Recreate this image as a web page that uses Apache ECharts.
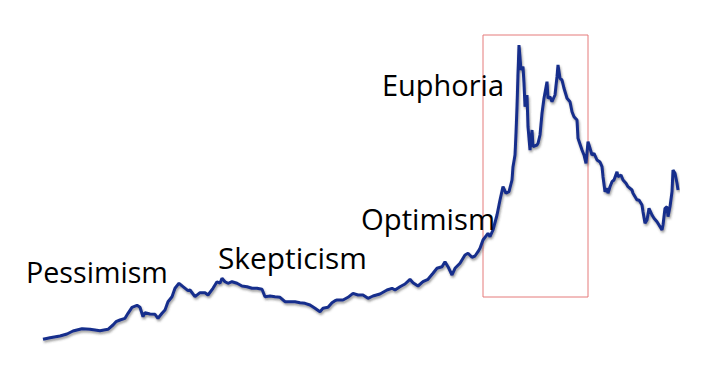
<!DOCTYPE html>
<html>
<head>
<meta charset="utf-8">
<script src="https://cdn.jsdelivr.net/npm/echarts@6/dist/echarts.min.js"></script>
<style>html,body{margin:0;padding:0;background:#fff}#c{width:710px;height:375px}</style>
</head>
<body>
<div id="c"></div>
<script>
// time steps (arbitrary units) and index level
const steps = [0,7,17,24,30,39,47,57,65,70,73,77,82,85,89,94,97,100,102,107,112,115,119,122,125,129,132,136,140,145,147,152,157,162,165,170,174,177,179,182,185,189,194,199,204,209,214,219,222,227,232,237,242,247,252,257,262,267,272,277,280,285,289,292,294,300,305,310,315,320,325,330,337,344,349,352,357,362,367,370,375,380,385,390,394,399,402,405,409,412,417,422,425,429,432,435,437,440,445,447,450,454,457,460,463,466,469,470,472,473,474,475,476,478,480,481,482,484,485,487,489,490,494,495,497,499,501,504,505,507,509,512,514,515,517,519,521,524,527,529,531,534,535,539,541,543,545,547,549,551,554,557,559,560,562,564,565,567,569,571,574,575,578,580,583,585,589,590,594,596,599,600,602,604,606,609,611,614,616,619,620,622,624,625,627,629,630,632,634,635];
const level = [10.7,12.3,14,16,19,21.3,20.7,19.3,20.7,25,28.3,30,31.7,36.7,42.7,44.7,42.7,33.3,37.3,36,35.7,31.7,36.7,40,48.3,53.3,61.7,66.7,63.3,59.3,60,53.3,57.3,57.3,55,61.7,68.3,66.7,71.7,68.3,66.7,68.3,66.7,64,63.3,61.7,61.7,60.7,53.3,54,53.3,52.7,48.3,48.3,48.3,47.3,46.7,45,41.7,38.3,41.7,42.7,47.3,49.3,50,50,52.7,56.7,55,55,51.7,54,56,60,61.7,60,63.3,66,70.7,67.3,64,68.3,70.7,76.7,81.7,83.3,88.3,83.3,75,81.7,86.7,95,96.7,92.7,94,98.3,101.7,110,116.7,113.3,120,135,150,163.3,156.7,158.3,170,183.3,195,216.7,243.3,276.7,305,280,283.3,266.7,243.3,255,223.3,200,220,203.3,205,206.7,215,236.7,251.7,268.3,251.7,253.3,248.3,255,273.3,285,271.7,270,261.7,251.7,248.3,238.3,233.3,230,211.7,200,195,186.7,208.3,201.7,195,196.7,190,188,183.3,173.3,158.3,161.7,156.7,163.3,168.3,170,178.3,173.3,175,170,166.7,163.3,160,156.7,150,150,145,138.3,126.7,130,141.7,135,131.7,128.3,125,120,125,141.7,143.3,133.3,143.3,158.3,180,176.7,166.7,160];
const phaseLabels = ['Pessimism','Skepticism','Optimism','Euphoria'];

const labelFont = '29px "Open Sans"';
const labelX = [26, 218, 361, 382];
const labelY = [271, 258, 219, 84];
const labelW = [142, 149, 134, 122];
const ctx = document.createElement('canvas').getContext('2d');
ctx.font = labelFont;

const chart = echarts.init(document.getElementById('c'), null, {renderer: 'svg'});
chart.setOption({
  animation: false,
  backgroundColor: '#ffffff',
  grid: {left: 43, right: 32, top: 0, bottom: 25},
  xAxis: {type: 'value', min: 0, max: 635, show: false},
  yAxis: {type: 'value', min: 0, max: 350, show: false},
  series: [{
    type: 'line',
    showSymbol: false,
    data: steps.map((s, i) => [s, level[i]]),
    lineStyle: {color: '#152e8c', width: 3, shadowColor: 'rgba(60,60,60,0.5)', shadowBlur: 2, shadowOffsetY: 2, shadowOffsetX: 1},
    markArea: {
      silent: true,
      itemStyle: {color: 'rgba(0,0,0,0)', borderColor: '#e57b7b', borderWidth: 1},
      data: [[{coord: [440, 315]}, {coord: [545, 53]}]]
    },
    z: 3
  }],
  graphic: phaseLabels.map((s, i) => ({
    type: 'text',
    x: labelX[i],
    y: labelY[i],
    scaleX: labelW[i] / ctx.measureText(s).width,
    z: 10,
    style: {text: s, font: labelFont, fill: '#000', align: 'left', verticalAlign: 'middle'}
  }))
});
</script>
</body>
</html>
